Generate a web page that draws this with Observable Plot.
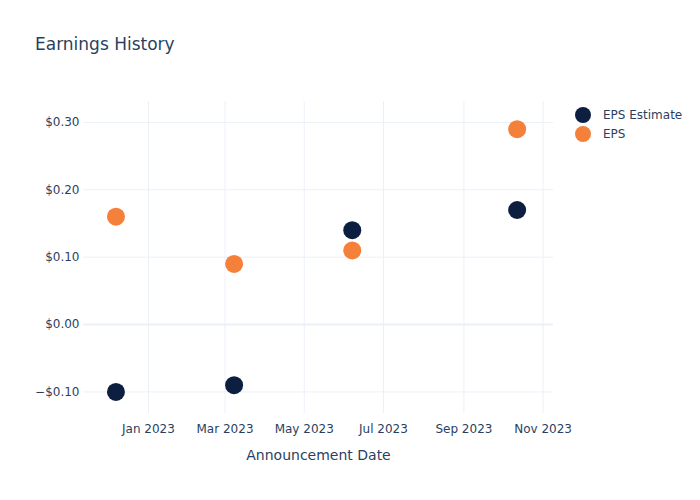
<!DOCTYPE html>
<html>
<head>
<meta charset="utf-8">
<script src="https://cdn.jsdelivr.net/npm/d3@7"></script>
<script src="https://cdn.jsdelivr.net/npm/@observablehq/plot@0.6"></script>
<style>
  html, body { margin: 0; padding: 0; background: #fff; }
  #wrap { position: relative; width: 700px; height: 500px; font-family: "DejaVu Sans", Verdana, sans-serif; color: #2a3f5f; }
  #title { position: absolute; left: 35px; top: 34px; font-size: 17px; color: #2a3f5f; white-space: nowrap; }
  #legend { position: absolute; left: 575px; top: 105px; font-size: 12px; color: #2a3f5f; }
  .item { display: flex; align-items: center; height: 19px; }
  .sw { width: 16px; height: 16px; border-radius: 50%; margin-right: 12px; }
  svg { position: absolute; left: 0; top: 0; }
</style>
</head>
<body>
<div id="wrap">
  <div id="chart"></div>
  <div id="title">Earnings History</div>
  <div id="legend"></div>
</div>
<script>
const announcementDates = ["2022-12-07", "2023-03-08", "2023-06-07", "2023-10-12"];
const epsEstimate = [-0.10, -0.09, 0.14, 0.17];
const epsActual = [0.16, 0.09, 0.11, 0.29];
const seriesNames = ["EPS Estimate", "EPS"];
const seriesColors = ["#0c1f40", "#f5803a"];
const xTickDates = ["2023-01-01", "2023-03-01", "2023-05-01", "2023-07-01", "2023-09-01", "2023-11-01"];
const yTicks = [-0.10, 0.00, 0.10, 0.20, 0.30];
const xDomain = ["2022-11-12", "2023-11-09"];
const yDomain = [-0.132, 0.331];

const estData = announcementDates.map((d, i) => ({date: new Date(d), value: epsEstimate[i]}));
const epsData = announcementDates.map((d, i) => ({date: new Date(d), value: epsActual[i]}));
const xt = xTickDates.map(d => new Date(d));
const grid = "#ebf0f8";
const fmtY = d => (d < 0 ? "\u2212" : "") + "$" + Math.abs(d).toFixed(2);

const chart = Plot.plot({
  width: 700,
  height: 500,
  marginTop: 101,
  marginLeft: 83,
  marginRight: 147,
  marginBottom: 87,
  style: {fontFamily: "DejaVu Sans, Verdana, sans-serif", fontSize: "12px", color: "#2a3f5f", background: "transparent"},
  x: {type: "utc", domain: xDomain.map(d => new Date(d))},
  y: {domain: yDomain},
  marks: [
    Plot.gridX(xt, {stroke: grid, strokeOpacity: 1, strokeWidth: 1}),
    Plot.gridY(yTicks.filter(v => v !== 0), {stroke: grid, strokeOpacity: 1, strokeWidth: 1}),
    Plot.ruleY([0], {stroke: grid, strokeWidth: 2}),
    Plot.axisX(xt, {tickFormat: d3.utcFormat("%b %Y"), tickSize: 0, tickPadding: 11, label: null, fill: "#2a3f5f", fontSize: 12}),
    Plot.axisY(yTicks, {tickFormat: fmtY, tickSize: 0, tickPadding: 4, label: null, fill: "#2a3f5f", fontSize: 12}),
    Plot.text(["Announcement Date"], {frameAnchor: "bottom", dy: 46, fontSize: 14, fill: "#2a3f5f"}),
    Plot.dot(estData, {x: "date", y: "value", r: 9, fill: seriesColors[0], stroke: "none"}),
    Plot.dot(epsData, {x: "date", y: "value", r: 9, fill: seriesColors[1], stroke: "none"})
  ]
});
document.getElementById("chart").appendChild(chart);

const legend = document.getElementById("legend");
seriesNames.forEach((n, i) => {
  const it = document.createElement("div");
  it.className = "item";
  const sw = document.createElement("div");
  sw.className = "sw";
  sw.style.background = seriesColors[i];
  const t = document.createElement("span");
  t.textContent = n;
  it.appendChild(sw); it.appendChild(t);
  legend.appendChild(it);
});
</script>
</body>
</html>
